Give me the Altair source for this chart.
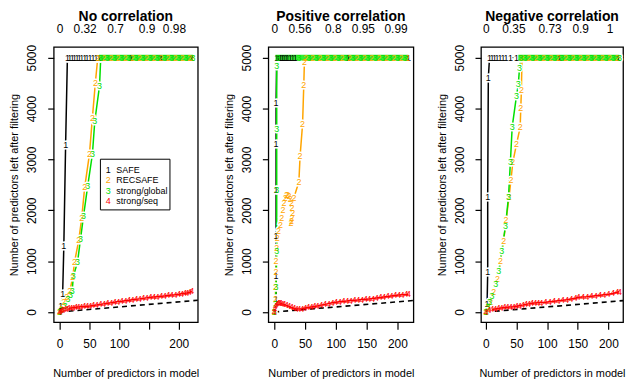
import altair as alt
import pandas as pd

FONT = "Liberation Sans"
SYMS = ["1", "2", "3", "4"]
COLS = ["#000000", "#FFA500", "#00E000", "#FF0000"]
BAND_COLOR = "#33EE33"
LEGEND_LABELS = ["SAFE", "RECSAFE", "strong/global", "strong/seq"]
TITLES = ["No correlation", "Positive correlation", "Negative correlation"]
BOTTOM_TICKS = [0, 50, 100, 150, 200]
Y_TICKS = [0, 1000, 2000, 3000, 4000, 5000]

# top-axis (lambda fraction) labels
P1_TOP_POS = [0, 42, 93, 146, 192]
P1_TOP_LAB = ["0", "0.32", "0.7", "0.9", "0.98"]
P2_TOP_POS = [0, 41, 95, 144, 197]
P2_TOP_LAB = ["0", "0.56", "0.8", "0.95", "0.99"]
P3_TOP_POS = [0, 45, 104, 154, 202]
P3_TOP_LAB = ["0", "0.35", "0.73", "0.9", "1"]

# ---------------- Panel 1: No correlation ----------------
P1_SAFE_X = [0, 2, 5, 7, 10, 13, 17, 21, 25, 29, 33, 37, 42, 46, 51, 56, 61, 66, 120, 170, 222]
P1_SAFE_Y = [0, 120, 350, 1290, 3290, 5000, 5000, 5000, 5000, 5000, 5000, 5000, 5000, 5000,
             5000, 5000, 5000, 5000, 5000, 5000, 5000]
P1_REC_X = [0, 3, 7, 12, 17, 22, 25, 32, 37, 42, 50, 55, 60, 64, 74, 86, 98, 110, 122, 134,
            146, 158, 170, 182, 194, 206, 218, 223]
P1_REC_Y = [0, 60, 200, 300, 410, 690, 980, 1410, 1840, 2450, 3100, 3820, 4510, 5000, 5000,
            5000, 5000, 5000, 5000, 5000, 5000, 5000, 5000, 5000, 5000, 5000, 5000, 5000]
P1_GLB_X = [0, 4, 9, 14, 18, 21, 23, 30, 35, 40, 47, 55, 59, 67, 69, 80, 92, 104, 116, 128,
            140, 152, 164, 176, 188, 200, 212, 224]
P1_GLB_Y = [0, 40, 120, 250, 330, 410, 700, 980, 1430, 1880, 2470, 3100, 3750, 4450, 5000,
            5000, 5000, 5000, 5000, 5000, 5000, 5000, 5000, 5000, 5000, 5000, 5000, 5000]
P1_SEQ_X = [0, 2, 4, 6, 9, 12, 15, 19, 23, 27, 31, 36, 41, 46, 51, 56, 62, 68, 74, 80, 86, 92,
            98, 104, 110, 116, 122, 128, 134, 140, 146, 152, 158, 164, 170, 176, 182, 188, 194,
            200, 205, 210, 214, 218, 222]
P1_SEQ_Y = [0, 20, 35, 45, 55, 62, 70, 78, 85, 92, 98, 104, 110, 114, 118, 128, 138, 150, 160,
            170, 180, 192, 205, 212, 222, 230, 240, 250, 258, 268, 278, 288, 295, 302, 310, 316,
            325, 332, 340, 350, 360, 370, 375, 385, 410]
P1_BAND_X = [66, 224]

# ---------------- Panel 2: Positive correlation ----------------
P2_SAFE_X = [0, 3, 3, 3, 3, 3, 3, 4, 7, 10, 13, 16, 19, 22, 26, 30, 34, 120, 218]
P2_SAFE_Y = [0, 250, 700, 1500, 2400, 3300, 4100, 5000, 5000, 5000, 5000, 5000, 5000, 5000,
             5000, 5000, 5000, 5000, 5000]
P2_REC_X = [0, 2, 2, 3, 3, 4, 5, 7, 10, 12, 14, 16, 18, 20, 22, 24, 26, 28, 29, 30, 29, 28, 27,
            32, 40, 42, 46, 48, 49, 51, 62, 74, 86, 98, 110, 122, 134, 146, 158, 170, 182, 194,
            206, 216]
P2_REC_Y = [0, 250, 500, 780, 1000, 1250, 1450, 1600, 1700, 1850, 2000, 2150, 2250, 2300, 2300,
            2280, 2230, 2150, 2050, 1950, 1850, 1780, 1750, 2250, 2560, 3070, 3690, 4470, 4920,
            5000, 5000, 5000, 5000, 5000, 5000, 5000, 5000, 5000, 5000, 5000, 5000, 5000, 5000,
            5000]
P2_GLB_X = [0, 2, 3, 4, 4, 4, 4, 6, 40, 56, 68, 80, 92, 104, 116, 128, 140, 152, 164, 176,
            188, 200, 212]
P2_GLB_Y = [0, 150, 500, 1200, 2400, 3600, 4840, 5000, 5000, 5000, 5000, 5000, 5000, 5000,
            5000, 5000, 5000, 5000, 5000, 5000, 5000, 5000, 5000]
P2_SEQ_X = [0, 1, 2, 4, 6, 8, 10, 13, 16, 20, 24, 28, 32, 36, 40, 45, 50, 55, 60, 65, 70, 76,
            82, 88, 94, 100, 106, 112, 118, 124, 130, 136, 142, 148, 154, 160, 166, 172, 178,
            184, 190, 196, 202, 208, 214, 218]
P2_SEQ_Y = [0, 60, 120, 150, 170, 180, 175, 160, 150, 130, 110, 90, 75, 65, 60, 65, 80, 90,
            100, 110, 120, 135, 150, 165, 180, 190, 200, 210, 215, 225, 230, 235, 245, 250, 255,
            265, 275, 285, 295, 305, 315, 325, 335, 340, 345, 350]
P2_BAND_X = [2, 218]

# ---------------- Panel 3: Negative correlation ----------------
P3_SAFE_X = [0, 2, 3, 3, 4, 6, 10, 14, 18, 23, 28, 33, 40, 50, 120, 216]
P3_SAFE_Y = [0, 150, 780, 2270, 4600, 5000, 5000, 5000, 5000, 5000, 5000, 5000, 5000, 5000,
             5000, 5000]
P3_REC_X = [0, 4, 8, 13, 19, 24, 29, 33, 38, 41, 44, 50, 56, 57, 58, 59, 70, 82, 94, 106, 118,
            130, 142, 154, 166, 178, 190, 202, 214]
P3_REC_Y = [0, 80, 200, 400, 650, 1000, 1400, 1800, 2270, 2600, 2940, 3300, 3630, 4000, 4360,
            5000, 5000, 5000, 5000, 5000, 5000, 5000, 5000, 5000, 5000, 5000, 5000, 5000, 5000]
P3_GLB_X = [0, 3, 6, 10, 16, 21, 26, 32, 37, 40, 43, 50, 53, 55, 57, 64, 76, 88, 100, 112,
            124, 136, 148, 160, 172, 184, 196, 208, 218]
P3_GLB_Y = [0, 100, 200, 310, 550, 800, 1200, 1690, 2270, 2940, 3640, 4250, 4480, 4800, 5000,
            5000, 5000, 5000, 5000, 5000, 5000, 5000, 5000, 5000, 5000, 5000, 5000, 5000, 5000]
P3_SEQ_X = [0, 5, 10, 15, 20, 25, 30, 35, 40, 45, 50, 55, 60, 65, 70, 75, 80, 85, 90, 97, 104,
            111, 118, 125, 132, 139, 146, 151, 158, 165, 172, 179, 186, 193, 200, 207, 214, 218]
P3_SEQ_Y = [0, 30, 50, 60, 70, 80, 90, 95, 100, 105, 115, 125, 135, 150, 160, 170, 175, 180,
            185, 190, 200, 210, 220, 230, 240, 255, 270, 290, 295, 300, 310, 320, 330, 340, 350,
            365, 390, 400]
P3_BAND_X = [53, 218]


def series_df(series):
    rows = []
    for ch, xs, ys in series:
        for i, (x, y) in enumerate(zip(xs, ys)):
            rows.append({"s": ch, "x": x, "y": y, "i": i})
    return pd.DataFrame(rows)


def panel(title, series, band_x, xdom, width, top_pos, top_lab, hide150, legend):
    df = series_df(series)
    xs = alt.Scale(domain=xdom, nice=False, zero=False)
    ys = alt.Scale(domain=[-200, 5210], nice=False, zero=False)
    bottom_expr = "datum.value == 150 ? '' : datum.label" if hide150 else "datum.label"
    xaxis = alt.Axis(values=BOTTOM_TICKS, title="Number of predictors in model", grid=False,
                     domain=False, tickSize=7, labelPadding=9, titlePadding=19,
                     labelExpr=bottom_expr, labelOverlap=False, labelFlush=False)
    yaxis = alt.Axis(values=Y_TICKS, format="d",
                     title="Number of predictors left after filtering",
                     grid=False, domain=False, tickSize=6, labelAngle=270,
                     labelAlign="center", labelBaseline="bottom", labelPadding=9,
                     titlePadding=6, labelOverlap=False, labelFlush=False)
    colscale = alt.Scale(domain=SYMS, range=COLS)
    X = lambda: alt.X("x:Q", scale=xs, axis=None)
    Y = lambda: alt.Y("y:Q", scale=ys, axis=yaxis)

    ref_df = pd.DataFrame({"x": [0, xdom[1]], "y": [0, xdom[1]]})
    ref = alt.Chart(ref_df).mark_line(color="black", strokeDash=[5, 4], strokeWidth=1.6).encode(
        x=alt.X("x:Q", scale=xs, axis=xaxis), y=Y())

    base = alt.Chart(df)
    lines = base.mark_line(strokeWidth=1.5).encode(
        x=X(), y=Y(), color=alt.Color("s:N", scale=colscale, legend=None),
        order="i:Q", detail="s:N")

    # white halo under characters of series 1-3 -> gaps in lines like R type="b"
    halo = base.transform_filter("datum.s != '4'").mark_text(
        fontSize=9, font=FONT, baseline="middle", stroke="white", strokeWidth=3,
        fill="white").encode(x=X(), y=Y(), text="s:N")

    band_df = pd.DataFrame({"x": band_x, "y": [5000] * len(band_x)})
    band = alt.Chart(band_df).mark_line(color=BAND_COLOR, strokeWidth=6).encode(x=X(), y=Y())

    chars = base.mark_text(fontSize=9, font=FONT, baseline="middle").encode(
        x=X(), y=Y(), text="s:N", color=alt.Color("s:N", scale=colscale, legend=None))

    expr = "{" + ",".join(f"'{p}':'{l}'" for p, l in zip(top_pos, top_lab)) + "}[datum.value]"
    top = alt.Chart(pd.DataFrame({"x": top_pos})).mark_tick(opacity=0).encode(
        x=alt.X("x:Q", scale=xs, axis=alt.Axis(orient="top", values=top_pos, labelExpr=expr,
                                                ticks=False, domain=False, title=None,
                                                grid=False, labelPadding=12,
                                                labelOverlap=False, labelFlush=False)))

    layers = [ref, lines, halo, band, chars, top]
    if legend:
        box = alt.Chart(pd.DataFrame({"a": [0]})).mark_rect(
            fill="white", stroke="black", strokeWidth=1).encode(
            x=alt.value(47), x2=alt.value(117), y=alt.value(113), y2=alt.value(164))
        layers.append(box)
        for k, (sym, lab, col) in enumerate(zip(SYMS, LEGEND_LABELS, COLS)):
            yy = 124 + 10.3 * k
            s = alt.Chart(pd.DataFrame({"t": [sym]})).mark_text(
                fontSize=9, font=FONT, color=col, align="center", baseline="middle").encode(
                x=alt.value(55), y=alt.value(yy), text="t:N")
            t = alt.Chart(pd.DataFrame({"t": [lab]})).mark_text(
                fontSize=9, font=FONT, color="black", align="left", baseline="middle").encode(
                x=alt.value(63), y=alt.value(yy), text="t:N")
            layers += [s, t]

    return alt.layer(*layers).resolve_axis(x="independent").properties(
        width=width, height=277, title=alt.Title(title, offset=-2))


p1 = panel(TITLES[0],
           [("1", P1_SAFE_X, P1_SAFE_Y), ("2", P1_REC_X, P1_REC_Y),
            ("3", P1_GLB_X, P1_GLB_Y), ("4", P1_SEQ_X, P1_SEQ_Y)],
           P1_BAND_X, [-10, 232], 145, P1_TOP_POS, P1_TOP_LAB, True, True)
p2 = panel(TITLES[1],
           [("1", P2_SAFE_X, P2_SAFE_Y), ("2", P2_REC_X, P2_REC_Y),
            ("3", P2_GLB_X, P2_GLB_Y), ("4", P2_SEQ_X, P2_SEQ_Y)],
           P2_BAND_X, [-9.6, 226], 146, P2_TOP_POS, P2_TOP_LAB, False, False)
p3 = panel(TITLES[2],
           [("1", P3_SAFE_X, P3_SAFE_Y), ("2", P3_REC_X, P3_REC_Y),
            ("3", P3_GLB_X, P3_GLB_Y), ("4", P3_SEQ_X, P3_SEQ_Y)],
           P3_BAND_X, [-8, 224], 143, P3_TOP_POS, P3_TOP_LAB, False, False)

chart = alt.hconcat(alt.hconcat(p1, p2, spacing=17), p3, spacing=14, padding=0).configure(
    font=FONT).configure_view(stroke="black", strokeWidth=1.3).configure_axis(
    labelFont=FONT, titleFont=FONT, labelFontSize=12, titleFontSize=11,
    labelColor="black", titleColor="black", tickColor="black", tickWidth=1.2,
    titleFontWeight="normal").configure_title(
    font=FONT, fontSize=14, fontWeight="bold", anchor="middle", color="black")

chart.save("out.html", embed_options={"renderer": "svg", "actions": False})
